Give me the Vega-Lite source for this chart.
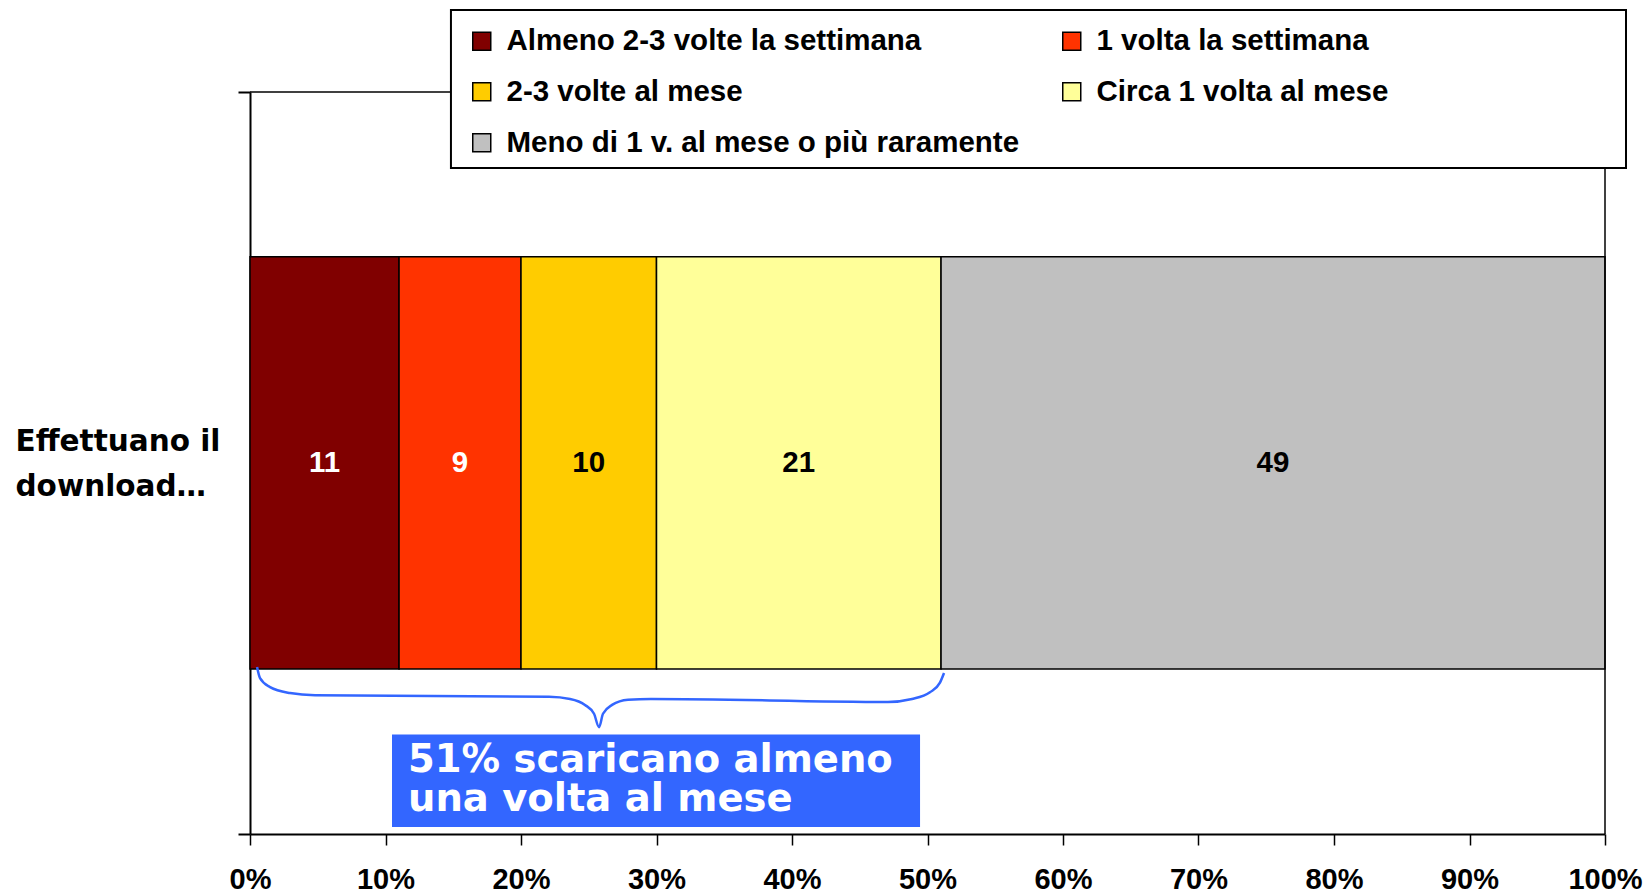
{
  "$schema": "https://vega.github.io/schema/vega-lite/v6.json",
  "width": 1355,
  "height": 742,
  "autosize": {"type": "none"},
  "padding": {"left": 250, "top": 92, "right": 43, "bottom": 60},
  "background": "white",
  "config": {"view": {"stroke": null}, "font": "Liberation Sans"},
  "layer": [
    {
      "data": {"values": [
        {"cat": "Almeno 2-3 volte la settimana", "value": 11, "ord": 1},
        {"cat": "1 volta la settimana", "value": 9, "ord": 2},
        {"cat": "2-3 volte al mese", "value": 10, "ord": 3},
        {"cat": "Circa 1 volta al mese", "value": 21, "ord": 4},
        {"cat": "Meno di 1 v. al mese o più raramente", "value": 49, "ord": 5}
      ]},
      "transform": [{"stack": "value", "groupby": [], "sort": [{"field": "ord", "order": "ascending"}], "as": ["x0", "x1"]}],
      "mark": {"type": "bar", "stroke": "black", "strokeWidth": 1.5},
      "encoding": {
        "x": {"field": "x0", "type": "quantitative", "title": null, "scale": {"domain": [0, 100], "nice": false},
          "axis": {"title": null, "values": [0,10,20,30,40,50,60,70,80,90,100], "grid": false,
            "tickSize": 11, "tickWidth": 1.5, "tickColor": "black", "domainColor": "black", "domainWidth": 2,
            "labelExpr": "datum.value + '%'", "labelFont": "Liberation Sans", "labelFontWeight": "bold",
            "labelFontSize": 29, "labelColor": "black", "labelPadding": 20, "labelFlush": false, "labelOverlap": false, "labelBound": false}},
        "x2": {"field": "x1"},
        "y": {"datum": 22.24, "type": "quantitative", "title": null, "scale": {"domain": [0, 100], "nice": false},
          "axis": {"title": null, "values": [0, 50, 100], "grid": false,
            "tickSize": 12, "tickWidth": 2, "tickColor": "black",
            "tickOpacity": {"condition": {"test": "datum.value == 50", "value": 0}, "value": 1},
            "domainColor": "black", "domainWidth": 2,
            "labelExpr": "datum.value == 50 ? ['Effettuano il', 'download…'] : ''",
            "labelAlign": "left", "labelBaseline": "middle", "labelPadding": 223, "labelLimit": 400, "labelOffset": -22,
            "labelFont": "DejaVu Sans", "labelFontWeight": "bold", "labelFontSize": 29.5, "labelLineHeight": 45,
            "labelColor": "black", "labelOverlap": false, "labelBound": false, "labelFlush": false}},
        "y2": {"datum": 77.8},
        "color": {"field": "cat", "type": "nominal",
          "scale": {"domain": ["Almeno 2-3 volte la settimana", "1 volta la settimana", "2-3 volte al mese", "Circa 1 volta al mese", "Meno di 1 v. al mese o più raramente"],
                    "range": ["#800000", "#FF3300", "#FFCC00", "#FFFF99", "#C0C0C0"]},
          "legend": {"title": null, "orient": "none", "legendX": 201, "legendY": -82, "columns": 2, "direction": "horizontal", "gridAlign": "all",
            "padding": 16, "rowPadding": 20, "columnPadding": 37,
            "symbolType": "square", "symbolSize": 324, "symbolStrokeColor": "black", "symbolStrokeWidth": 1.5, "symbolOpacity": 1,
            "labelFont": "Liberation Sans", "labelFontWeight": "bold", "labelFontSize": 29.5, "labelColor": "black",
            "labelOffset": 10, "labelLimit": 800, "zindex": 1}}
      }
    },
    {
      "data": {"values": [
        {"cat": "Almeno 2-3 volte la settimana", "value": 11, "ord": 1},
        {"cat": "1 volta la settimana", "value": 9, "ord": 2},
        {"cat": "2-3 volte al mese", "value": 10, "ord": 3},
        {"cat": "Circa 1 volta al mese", "value": 21, "ord": 4},
        {"cat": "Meno di 1 v. al mese o più raramente", "value": 49, "ord": 5}
      ]},
      "transform": [
        {"stack": "value", "groupby": [], "sort": [{"field": "ord", "order": "ascending"}], "as": ["x0", "x1"]},
        {"calculate": "(datum.x0 + datum.x1) / 2", "as": "mid"}
      ],
      "mark": {"type": "text", "font": "Liberation Sans", "fontWeight": "bold", "fontSize": 29.5, "align": "center", "baseline": "middle"},
      "encoding": {
        "x": {"field": "mid", "type": "quantitative", "title": null},
        "y": {"datum": 50, "type": "quantitative", "title": null},
        "text": {"field": "value", "type": "quantitative"},
        "color": {"condition": {"test": "datum.ord <= 2", "value": "white"}, "value": "black"}
      }
    },
    {
      "data": {"values": [{}]},
      "mark": {"type": "rule", "stroke": "black", "strokeWidth": 1.5},
      "encoding": {"x": {"datum": 0, "type": "quantitative", "title": null}, "x2": {"datum": 100}, "y": {"datum": 100, "type": "quantitative", "title": null}}
    },
    {
      "data": {"values": [{}]},
      "mark": {"type": "rule", "stroke": "black", "strokeWidth": 1.5},
      "encoding": {"x": {"datum": 100, "type": "quantitative", "title": null}, "y": {"datum": 0, "type": "quantitative", "title": null}, "y2": {"datum": 100}}
    },
    {
      "data": {"values": [{}]},
      "mark": {"type": "rect", "fill": "white", "stroke": "black", "strokeWidth": 2, "clip": false},
      "encoding": {"x": {"datum": 14.83, "type": "quantitative", "title": null}, "x2": {"datum": 101.55},
                   "y": {"datum": 111.05, "type": "quantitative", "title": null}, "y2": {"datum": 89.76}}
    },
    {
      "data": {"values": [
        {"bx": 0.52, "by": 22.5}, {"bx": 0.74, "by": 21.0}, {"bx": 1.48, "by": 19.8}, {"bx": 2.95, "by": 19.0},
        {"bx": 4.8, "by": 18.7}, {"bx": 22.07, "by": 18.5}, {"bx": 23.62, "by": 18.2}, {"bx": 24.72, "by": 17.4},
        {"bx": 25.39, "by": 16.2}, {"bx": 25.76, "by": 14.4}, {"bx": 26.05, "by": 16.2}, {"bx": 26.72, "by": 17.4},
        {"bx": 27.9, "by": 18.1}, {"bx": 29.59, "by": 18.2}, {"bx": 47.08, "by": 17.8}, {"bx": 48.86, "by": 18.2},
        {"bx": 50.18, "by": 19.1}, {"bx": 50.92, "by": 20.4}, {"bx": 51.22, "by": 21.7}
      ]},
      "mark": {"type": "line", "stroke": "#3366FF", "strokeWidth": 2.5, "interpolate": "monotone"},
      "encoding": {
        "x": {"field": "bx", "type": "quantitative", "title": null},
        "y": {"field": "by", "type": "quantitative", "title": null}
      }
    },
    {
      "data": {"values": [{}]},
      "mark": {"type": "rect", "fill": "#3366FF"},
      "encoding": {"x": {"datum": 10.48, "type": "quantitative", "title": null}, "x2": {"datum": 49.45},
                   "y": {"datum": 13.4, "type": "quantitative", "title": null}, "y2": {"datum": 0.94}}
    },
    {
      "data": {"values": [{}]},
      "mark": {"type": "text", "text": ["51% scaricano almeno", "una volta al mese"], "font": "DejaVu Sans", "fontWeight": "bold",
               "fontSize": 38.5, "lineHeight": 39, "align": "left", "baseline": "alphabetic", "fill": "white"},
      "encoding": {"x": {"datum": 11.66, "type": "quantitative", "title": null}, "y": {"datum": 8.36, "type": "quantitative", "title": null}}
    }
  ]
}
